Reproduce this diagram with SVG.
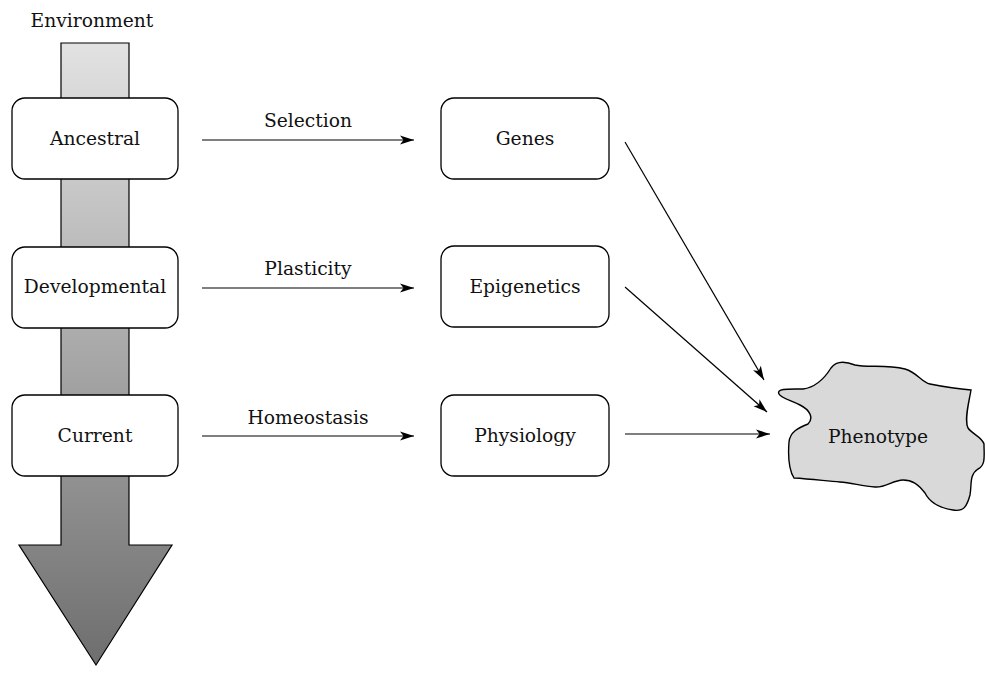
<svg xmlns="http://www.w3.org/2000/svg" width="985" height="675" viewBox="0 0 985 675">
<style>
text { font-family: "DejaVu Serif", "Liberation Serif", serif; font-size: 18.7px; fill: #111; text-anchor: middle; }
.box { fill: #fff; stroke: #000; stroke-width: 1.3; }
.conn { stroke: #000; stroke-width: 1.2; fill: none; marker-end: url(#ah); }
</style>
<defs>
<linearGradient id="envg" x1="0" y1="0" x2="0" y2="1" gradientUnits="objectBoundingBox">
<stop offset="0" stop-color="#e2e2e2"/>
<stop offset="1" stop-color="#6e6e6e"/>
</linearGradient>
<marker id="ah" viewBox="0 0 14 10" refX="14" refY="5" markerWidth="14" markerHeight="10" markerUnits="userSpaceOnUse" orient="auto">
<path d="M0,0.5 L14,5 L0,9.5 L3.5,5 Z" fill="#000"/>
</marker>
</defs>
<g id="environment">
<text x="92" y="27">Environment</text>
<path d="M61,43 L129,43 L129,545 L172,545 L96,665 L19,545 L61,545 Z" fill="url(#envg)" stroke="#000" stroke-width="1.2"/>
</g>
<g id="ancestral"><rect class="box" x="12" y="98" width="166" height="81" rx="13"/><text x="95" y="145">Ancestral</text></g>
<g id="developmental"><rect class="box" x="12" y="247" width="166" height="81" rx="13"/><text x="95" y="293">Developmental</text></g>
<g id="current"><rect class="box" x="12" y="395" width="166" height="81" rx="13"/><text x="95" y="442">Current</text></g>
<g id="genes"><rect class="box" x="441" y="98" width="168" height="81" rx="13"/><text x="525" y="145">Genes</text></g>
<g id="epigenetics"><rect class="box" x="441" y="246" width="168" height="81" rx="13"/><text x="525" y="293">Epigenetics</text></g>
<g id="physiology"><rect class="box" x="441" y="395" width="168" height="81" rx="13"/><text x="525" y="442">Physiology</text></g>
<g id="phenotype">
<path d="M779,394 C776,388 790,389 803,389 C818,387 826,376 831,368 C836,361 845,361 855,365 C868,368 885,364 905,369 C918,373 921,382 930,384 C945,387 958,389 971,390 C969,402 964,420 968,428 C972,434 982,437 984,444 C984,456 986,465 978,469 C969,475 972,484 970,495 C967,506 964,512 953,510 C940,508 930,503 925,493 C918,484 912,480 903,480 C893,480 885,488 875,487 C862,486 852,483 840,482 C826,481 812,479 794,478 C789,470 788,455 789,442 C790,432 798,428 808,424 C814,418 810,410 800,405 C790,400 781,398 779,394 Z" fill="#d9d9d9" stroke="#000" stroke-width="1.4"/>
<text x="878" y="443">Phenotype</text>
</g>
<g id="connectors">
<line class="conn" x1="202" y1="140" x2="414" y2="140"/>
<text x="308" y="127">Selection</text>
<line class="conn" x1="202" y1="288" x2="414" y2="288"/>
<text x="308" y="275">Plasticity</text>
<line class="conn" x1="202" y1="436" x2="414" y2="436"/>
<text x="308" y="424">Homeostasis</text>
<line class="conn" x1="625" y1="142" x2="764" y2="380"/>
<line class="conn" x1="625" y1="287" x2="767" y2="412"/>
<line class="conn" x1="625" y1="434" x2="770" y2="434"/>
</g>
</svg>
